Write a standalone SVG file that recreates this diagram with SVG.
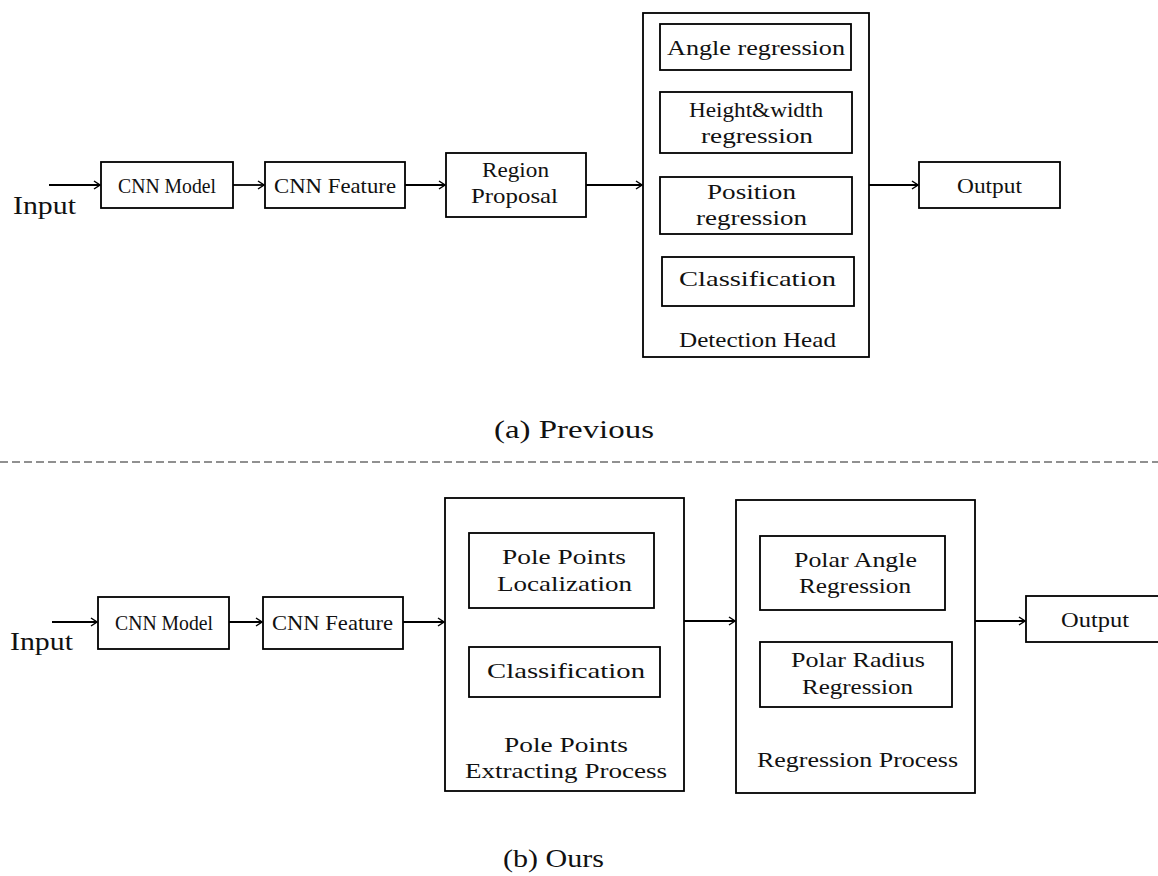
<svg xmlns="http://www.w3.org/2000/svg" width="1158" height="876" viewBox="0 0 1158 876">
<defs>
<style>
rect{fill:#fff;stroke:#000;stroke-width:1.8}
text{font-family:"Liberation Serif","DejaVu Serif",serif;font-size:22px;fill:#111}
.big{font-size:26px}
.cap{font-size:25px}
.c line{stroke:#000;stroke-width:1.8;marker-end:url(#ah)}
</style>
<marker id="ah" viewBox="0 0 10 10" refX="9" refY="5" markerWidth="10" markerHeight="10" markerUnits="userSpaceOnUse" orient="auto">
<path d="M3,1 L9,5 L3,9" fill="none" stroke="#000" stroke-width="1.5"/>
</marker>
</defs>
<rect x="0" y="0" width="1158" height="876" style="stroke:none"/>

<!-- Top row -->
<g id="top-input"><text class="big" x="13" y="214" textLength="63" lengthAdjust="spacingAndGlyphs">Input</text></g>
<g id="top-cnn-model"><rect x="101" y="162" width="132" height="46"/><text x="118" y="193" textLength="98" lengthAdjust="spacingAndGlyphs">CNN Model</text></g>
<g id="top-cnn-feature"><rect x="265" y="162" width="140" height="46"/><text x="274" y="193" textLength="122" lengthAdjust="spacingAndGlyphs">CNN Feature</text></g>
<g id="top-region-proposal"><rect x="446" y="153" width="140" height="64"/><text x="482" y="177" textLength="67" lengthAdjust="spacingAndGlyphs">Region</text><text x="471" y="203" textLength="87" lengthAdjust="spacingAndGlyphs">Proposal</text></g>
<g id="top-detection-head"><rect x="643" y="13" width="226" height="344"/>
<text x="679" y="347" textLength="157" lengthAdjust="spacingAndGlyphs">Detection Head</text></g>
<g id="top-angle"><rect x="660" y="24" width="191" height="46"/><text x="667" y="55" textLength="178" lengthAdjust="spacingAndGlyphs">Angle regression</text></g>
<g id="top-hw"><rect x="660" y="92" width="192" height="61"/><text x="689" y="117" textLength="134" lengthAdjust="spacingAndGlyphs">Height&amp;width</text><text x="701" y="143" textLength="112" lengthAdjust="spacingAndGlyphs">regression</text></g>
<g id="top-position"><rect x="660" y="177" width="192" height="57"/><text x="707" y="199" textLength="89" lengthAdjust="spacingAndGlyphs">Position</text><text x="696" y="225" textLength="111" lengthAdjust="spacingAndGlyphs">regression</text></g>
<g id="top-classification"><rect x="662" y="257" width="192" height="49"/><text x="679" y="286" textLength="157" lengthAdjust="spacingAndGlyphs">Classification</text></g>
<g id="top-output"><rect x="919" y="162" width="141" height="46"/><text x="957" y="193" textLength="65" lengthAdjust="spacingAndGlyphs">Output</text></g>

<g id="caption-a"><text class="cap" x="494" y="438" textLength="160" lengthAdjust="spacingAndGlyphs">(a) Previous</text></g>
<line x1="0" y1="462" x2="1158" y2="462" stroke="#222" stroke-width="1.2" stroke-dasharray="8 4"/>

<!-- Bottom row -->
<g id="bot-input"><text class="big" x="10" y="650" textLength="63" lengthAdjust="spacingAndGlyphs">Input</text></g>
<g id="bot-cnn-model"><rect x="98" y="597" width="131" height="52"/><text x="115" y="630" textLength="98" lengthAdjust="spacingAndGlyphs">CNN Model</text></g>
<g id="bot-cnn-feature"><rect x="263" y="597" width="140" height="52"/><text x="272" y="630" textLength="121" lengthAdjust="spacingAndGlyphs">CNN Feature</text></g>
<g id="bot-extract"><rect x="445" y="498" width="239" height="293"/><text x="504" y="752" textLength="124" lengthAdjust="spacingAndGlyphs">Pole Points</text><text x="465" y="778" textLength="202" lengthAdjust="spacingAndGlyphs">Extracting Process</text></g>
<g id="bot-localization"><rect x="469" y="533" width="185" height="75"/><text x="502" y="564" textLength="124" lengthAdjust="spacingAndGlyphs">Pole Points</text><text x="497" y="591" textLength="135" lengthAdjust="spacingAndGlyphs">Localization</text></g>
<g id="bot-classification"><rect x="469" y="647" width="191" height="50"/><text x="487" y="678" textLength="158" lengthAdjust="spacingAndGlyphs">Classification</text></g>
<g id="bot-regression"><rect x="736" y="500" width="239" height="293"/><text x="757" y="767" textLength="201" lengthAdjust="spacingAndGlyphs">Regression Process</text></g>
<g id="bot-angle"><rect x="760" y="536" width="185" height="74"/><text x="794" y="567" textLength="123" lengthAdjust="spacingAndGlyphs">Polar Angle</text><text x="799" y="593" textLength="112" lengthAdjust="spacingAndGlyphs">Regression</text></g>
<g id="bot-radius"><rect x="760" y="642" width="192" height="65"/><text x="791" y="667" textLength="134" lengthAdjust="spacingAndGlyphs">Polar Radius</text><text x="802" y="694" textLength="111" lengthAdjust="spacingAndGlyphs">Regression</text></g>
<g id="bot-output"><rect x="1026" y="596" width="140" height="46"/><text x="1061" y="627" textLength="68" lengthAdjust="spacingAndGlyphs">Output</text></g>

<g id="caption-b"><text class="cap" x="503" y="867" textLength="101" lengthAdjust="spacingAndGlyphs">(b) Ours</text></g>

<g id="connectors" class="c">
<line x1="49" y1="185" x2="100" y2="185"/>
<line x1="233" y1="185" x2="264" y2="185"/>
<line x1="405" y1="185" x2="445" y2="185"/>
<line x1="586" y1="185" x2="642" y2="185"/>
<line x1="869" y1="185" x2="918" y2="185"/>
<line x1="52" y1="622" x2="97" y2="622"/>
<line x1="229" y1="622" x2="262" y2="622"/>
<line x1="403" y1="622" x2="444" y2="622"/>
<line x1="684" y1="621" x2="735" y2="621"/>
<line x1="975" y1="621" x2="1025" y2="621"/>
</g>
</svg>
